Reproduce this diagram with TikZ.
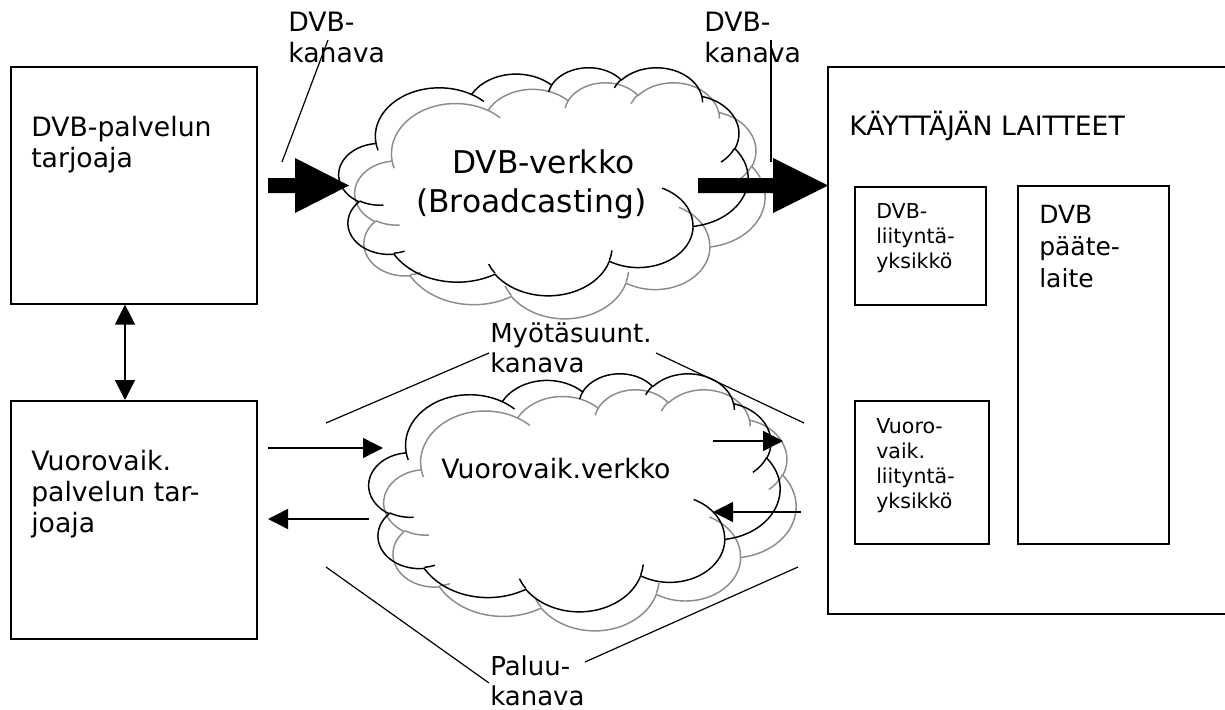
\documentclass[tikz,border=0pt]{standalone}
\usepackage{fontspec}
\setmainfont{DejaVu Sans}
\usetikzlibrary{arrows.meta}

% one pixel of the drawing grid
\def\pxu{0.75pt}
% left-aligned stack of lines; the baseline is that of the first line
\newcommand\mlines[1]{\vtop{\halign{##\hfil\cr#1\crcr}}}
\newcommand\fs[2]{\fontsize{#1}{#2}\selectfont}

% elliptic arc given by radii, start angle and sweep measured as seen
% (not as ellipse parameter), continuing from the current point
\newcommand\cloudarc[4]{%
  arc[x radius=#1, y radius=#2,
      start angle={atan2(#1*sin(#3),#2*cos(#3))},
      delta angle={mod(atan2(#1*sin(#3+#4),#2*cos(#3+#4))-atan2(#1*sin(#3),#2*cos(#3))+720,360)}]}

% cloud outline with its inner folds, in a 432 x 432 frame
% #1 style, #2/#3 top left corner, #4 width, #5 height (pixels)
\newcommand\puffcloud[5]{%
\begin{scope}[shift={(#2,#3)}, x=#4/432*0.75pt, y=-#5/432*0.75pt]
  \draw[#1] (39.00,143.70)
    \cloudarc{67.53}{91.90}{-190.4875}{123.7805}
    \cloudarc{53.33}{72.67}{-144.1024}{89.9452}
    \cloudarc{43.65}{59.45}{-145.8079}{99.7230}
    \cloudarc{48.57}{65.95}{-130.9861}{117.2417}
    \cloudarc{53.33}{72.73}{-78.7089}{109.0269}
    \cloudarc{67.75}{92.20}{-46.2673}{130.2690}
    \cloudarc{57.85}{78.67}{0.6250}{114.0333}
    \cloudarc{67.52}{92.15}{22.4516}{115.1726}
    \cloudarc{77.20}{105.43}{66.2426}{75.7110}
    \cloudarc{43.60}{59.18}{-274.9421}{146.7356}
    \cloudarc{43.45}{59.45}{-246.8285}{152.5189}
    -- cycle;
  \draw[#1]
    (46.93,261.77) \cloudarc{43.45}{59.45}{86.7420}{26.4295}
    (69.28,348.99) \cloudarc{43.60}{59.18}{73.6105}{11.4475}
    (164.78,390.90) \cloudarc{67.52}{92.15}{137.6242}{14.0811}
    (288.27,347.51) \cloudarc{67.52}{92.15}{6.4533}{15.9984}
    (341.29,229.54) \cloudarc{57.85}{78.67}{-70.2924}{70.9174}
    (417.98,153.54) \cloudarc{53.33}{72.73}{30.3180}{27.7515}
    (383.24,54.26) \cloudarc{48.57}{65.95}{-13.7443}{14.8589}
    (290.78,39.52) \cloudarc{48.57}{65.95}{-149.1815}{18.1954}
    (221.41,47.20) \cloudarc{43.65}{59.45}{-163.4943}{17.6864}
    (140.00,51.92) \cloudarc{67.53}{91.90}{-66.7070}{12.3194}
    (41.27,157.89) \cloudarc{67.53}{91.90}{157.6544}{11.8582};
\end{scope}}

\definecolor{shade}{RGB}{140,140,140}

\tikzset{
  box/.style={draw, line width=1.2pt, rectangle, anchor=north west, inner sep=0pt},
  txt/.style={anchor=base west, inner sep=0pt, font=\fs{20pt}{23.25pt}},
  smalltxt/.style={anchor=base west, inner sep=0pt, font=\fs{15.4pt}{18.75pt}},
  bigtxt/.style={anchor=base west, inner sep=0pt, font=\fs{23.5pt}{29.25pt}},
  cloudline/.style={line width=1.1pt, line join=round},
  shadeline/.style={cloudline, draw=shade},
  leader/.style={line width=0.9pt},
  thin arrow/.style={line width=1.1pt, -{Triangle[length=15pt,width=15pt]}},
  fat/.style={fill=black, draw=none},
}

\begin{document}
\begin{tikzpicture}[x=0.75pt, y=-0.75pt]
\useasboundingbox (0,0) rectangle (1225,710);
\clip (0,0) rectangle (1225,710);

% ---- service providers -------------------------------------------------
\node[box, minimum width=246*\pxu, minimum height=237*\pxu] (dvbprov) at (10,66) {};
\node[box, minimum width=246*\pxu, minimum height=238*\pxu] (intprov) at (10,400) {};
\node[txt] (dvbprovtxt) at (31,137) {\mlines{DVB-palvelun\cr tarjoaja}};
\node[txt] (intprovtxt) at (31,470) {\mlines{Vuorovaik.\cr palvelun tar-\cr joaja}};

\coordinate (linkx) at (125,0);
\draw[line width=1.1pt, {Triangle[length=15pt,width=15pt]}-{Triangle[length=15pt,width=15pt]}]
  (linkx |- dvbprov.south) -- (linkx |- intprov.north);

% ---- user equipment ------------------------------------------------------
\node[box, minimum width=413*\pxu, minimum height=547*\pxu] (user) at (827,66) {};
\node[txt] (usertxt) at (849,136) {KÄYTTÄJÄN LAITTEET};
\node[box, minimum width=131*\pxu, minimum height=118*\pxu] (dvbif) at (854,186) {};
\node[box, minimum width=134*\pxu, minimum height=143*\pxu] (intif) at (854,400) {};
\node[box, minimum width=151*\pxu, minimum height=358*\pxu] (term) at (1017,185) {};
\node[smalltxt] (dvbiftxt) at (876,218) {\mlines{DVB-\cr liityntä-\cr yksikkö}};
\node[smalltxt] (intiftxt) at (876,433) {\mlines{Vuoro-\cr vaik.\cr liityntä-\cr yksikkö}};
\node[anchor=base west, inner sep=0pt, font=\fs{18.75pt}{24pt}] (termtxt) at (1039,223)
  {\mlines{DVB\cr pääte-\cr laite}};

% ---- broadcast network ---------------------------------------------------
\puffcloud{shadeline}{355}{82}{410}{236}
\puffcloud{cloudline}{339}{67}{409}{228}
\node[bigtxt] (dvbnettxt) at (452,173) {DVB-verkko};
\node[bigtxt] (dvbnetsub) at (416,212) {(Broadcasting)};

% ---- interaction network -------------------------------------------------
\puffcloud{shadeline}{384}{389}{412}{241}
\puffcloud{cloudline}{369}{373}{411}{238}
\node[txt] (intnettxt) at (441,478) {Vuorovaik.verkko};

% ---- broadcast channel arrows ------------------------------------------
\fill[fat] (268,178) -- (295,178) -- (295,158) -- (349,185.5) -- (295,213) -- (295,193) -- (268,193) -- cycle;
\fill[fat] (698,178) -- (773,178) -- (773,158) -- (828,185.5) -- (773,213) -- (773,193) -- (698,193) -- cycle;

\node[txt] (chanl) at (288,32) {\mlines{DVB-\cr kanava}};
\node[txt] (chanr) at (704,32) {\mlines{DVB-\cr kanava}};
\coordinate (chanlfoot) at (282,162);
\coordinate (chanltop) at (328,40);
\coordinate (chanrfoot) at (771,162);
\coordinate (chanrtop) at (771,40);
\draw[leader] (chanlfoot) -- (chanltop);
\draw[leader] (chanrfoot) -- (chanrtop);

% ---- interaction channel arrows ------------------------------------------
\coordinate (fwdins) at (268,448);   \coordinate (fwdine) at (383,448);
\coordinate (retouts) at (369,519);  \coordinate (retoute) at (268,519);
\coordinate (fwdouts) at (713,441);  \coordinate (fwdoute) at (783,441);
\coordinate (retins) at (801,512);   \coordinate (retine) at (713,512);
\draw[thin arrow] (fwdins) -- (fwdine);
\draw[thin arrow] (retouts) -- (retoute);
\draw[thin arrow] (fwdouts) -- (fwdoute);
\draw[thin arrow] (retins) -- (retine);

% ---- channel labels with their bracket lines ----------------------------
\node[txt, font=\fs{19.5pt}{22.5pt}] (fwdlbl) at (490,342) {\mlines{Myötäsuunt.\cr kanava}};
\node[txt, font=\fs{19.5pt}{22.5pt}] (retlbl) at (490,675) {\mlines{Paluu-\cr kanava}};
\coordinate (f1) at (326,423); \coordinate (f2) at (489,353);
\coordinate (f3) at (656,353); \coordinate (f4) at (804,423);
\coordinate (r1) at (326,567); \coordinate (r2) at (489,683);
\coordinate (r3) at (585,662); \coordinate (r4) at (798,567);
\draw[leader] (f1) -- (f2);
\draw[leader] (f3) -- (f4);
\draw[leader] (r1) -- (r2);
\draw[leader] (r3) -- (r4);
\end{tikzpicture}
\end{document}
